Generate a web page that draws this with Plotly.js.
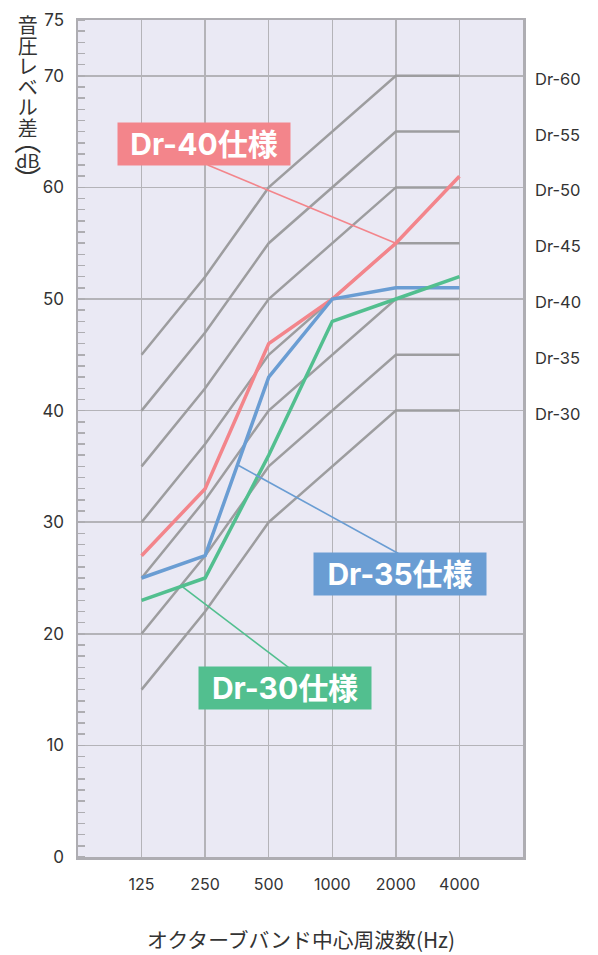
<!DOCTYPE html>
<html>
<head>
<meta charset="utf-8">
<script src="https://cdn.plot.ly/plotly-3.0.1.min.js"></script>
<style>html,body{margin:0;padding:0;background:#fff;}#chart{width:598px;height:955px;}</style>
</head>
<body>
<div id="chart"></div>
<script>
// ---- data ----
const bands = ["125", "250", "500", "1000", "2000", "4000"];
const drNames = ["Dr-60", "Dr-55", "Dr-50", "Dr-45", "Dr-40", "Dr-35", "Dr-30"];
const dr60 = [45, 52, 60, 65, 70, 70];
const dr55 = [40, 47, 55, 60, 65, 65];
const dr50 = [35, 42, 50, 55, 60, 60];
const dr45 = [30, 37, 45, 50, 55, 55];
const dr40 = [25, 32, 40, 45, 50, 50];
const dr35 = [20, 27, 35, 40, 45, 45];
const dr30 = [15, 22, 30, 35, 40, 40];
const spec40 = [27, 33, 46, 50, 55, 61];
const spec35 = [25, 27, 43, 50, 51, 51];
const spec30 = [23, 25, 36, 48, 50, 52];
const specNames = ["Dr-40仕様", "Dr-35仕様", "Dr-30仕様"];
const yTicks = [0, 10, 20, 30, 40, 50, 60, 70, 75];
const yTitleChars = ["音", "圧", "レ", "ベ", "ル", "差", "︵", "dB", "︶"];
const xTitle = "オクターブバンド中心周波数(Hz)";

// ---- styles ----
const FONT = "Inter, Noto Sans CJK JP, sans-serif";
const JFONT = "Noto Sans CJK JP, sans-serif";
const cRed = "#f3858b", cBlue = "#6a9dd3", cGreen = "#52bf8f";
const cCurve = "#9d9d9f", cGrid = "#b4b3b8";
const xi = bands.map((b, i) => i);

const drSets = [dr60, dr55, dr50, dr45, dr40, dr35, dr30];
const traces = drSets.map((v, k) => ({
  x: xi, y: v, type: "scatter", mode: "lines", name: drNames[k],
  line: {color: cCurve, width: 2.5}, hoverinfo: "skip", showlegend: false
}));
[[spec40, cRed], [spec35, cBlue], [spec30, cGreen]].forEach(([v, c], k) => {
  traces.push({x: xi, y: v, type: "scatter", mode: "lines", name: specNames[k],
    line: {color: c, width: 3.5}, showlegend: false});
});

// leader lines (label anchor -> curve point), data coords
const leaders = [
  {x0: 1.04, y0: 62.0, x1: 4, y1: spec40[4], c: cRed},
  {x0: 1.52, y0: 35.1, x1: 4.04, y1: 27.2, c: cBlue},
  {x0: 0.645, y0: 24.2, x1: 2.31, y1: 17.0, c: cGreen}
];
const shapes = leaders.map(l => ({type: "line", xref: "x", yref: "y",
  x0: l.x0, y0: l.y0, x1: l.x1, y1: l.y1, line: {color: l.c, width: 1.6}, layer: "above"}));

const annotations = [];
// spec label boxes
const boxes = [
  {t: specNames[0], x: 0.975, y: 63.9, c: cRed},
  {t: specNames[1], x: 4.064, y: 25.36, c: cBlue},
  {t: specNames[2], x: 2.256, y: 15.14, c: cGreen}
];
boxes.forEach(b => annotations.push({
  text: "<b>" + b.t + "</b>", x: b.x, y: b.y, xref: "x", yref: "y",
  showarrow: false, bgcolor: b.c, width: 172, height: 42, borderpad: 0,
  font: {family: FONT, size: 30, color: "#ffffff"}
}));
// right-side Dr labels
drSets.forEach((v, k) => annotations.push({
  text: drNames[k], x: 1, xref: "paper", y: v[5], yref: "y",
  xanchor: "left", xshift: 10, yshift: -3, showarrow: false,
  font: {family: FONT, size: 16.5, color: "#333"}
}));
// vertical y-axis title (one text, lines tightened after render)
annotations.push({
  text: yTitleChars.join("<br>"), xref: "paper", yref: "paper",
  x: (28 - 78) / 445, y: (857 - 8) / 837, xanchor: "center", yanchor: "top",
  showarrow: false, name: "ytitle",
  font: {family: JFONT, size: 20, color: "#333"}
});
// x-axis title
annotations.push({
  text: xTitle, xref: "paper", yref: "paper",
  x: 0.5, y: (857 - 939) / 837, xanchor: "center", yanchor: "middle", showarrow: false,
  font: {family: JFONT, size: 20.8, color: "#333"}
});

const layout = {
  width: 598, height: 955,
  margin: {l: 78, r: 75, t: 20, b: 98},
  paper_bgcolor: "#ffffff", plot_bgcolor: "#eae9f4",
  showlegend: false,
  xaxis: {
    range: [-1, 6], tickmode: "array", tickvals: xi, ticktext: bands,
    showgrid: true, gridcolor: cGrid, gridwidth: 1.5, zeroline: false,
    showline: true, linecolor: "#aeadb2", linewidth: 2.5, mirror: true,
    ticks: "", ticklabelstandoff: 11,
    tickfont: {family: FONT, size: 16, color: "#333"}
  },
  yaxis: {
    range: [0, 75], tickmode: "array", tickvals: yTicks,
    showgrid: true, gridcolor: cGrid, gridwidth: 1.5, zeroline: false,
    showline: true, linecolor: "#aeadb2", linewidth: 2.5, mirror: true,
    ticks: "", ticklabelstandoff: 8,
    tickfont: {family: FONT, size: 17, color: "#333"},
    minor: {dtick: 1, tick0: 0, ticks: "inside", ticklen: 7, tickwidth: 1.5, tickcolor: "#aeadb2", showgrid: false}
  },
  shapes: shapes,
  annotations: annotations
};
Plotly.newPlot("chart", traces, layout, {displayModeBar: false, staticPlot: true}).then(gd => {
  // tighten vertical title line spacing to match stacked vertical lettering
  const steps = [0, 20.5, 20.5, 20.5, 20.5, 20.5, 15, 17, 22];
  const sizes = {6: "27px", 7: "18px", 8: "27px"};
  gd.querySelectorAll(".annotation-text").forEach(t => {
    if (t.textContent.indexOf("音") !== 0) return;
    const lines = t.querySelectorAll("tspan.line");
    let acc = 0;
    lines.forEach((ln, i) => {
      acc += steps[i] || 0;
      ln.setAttribute("dy", acc + "px");
      if (sizes[i]) ln.style.fontSize = sizes[i];
    });
  });
});
</script>
</body>
</html>
